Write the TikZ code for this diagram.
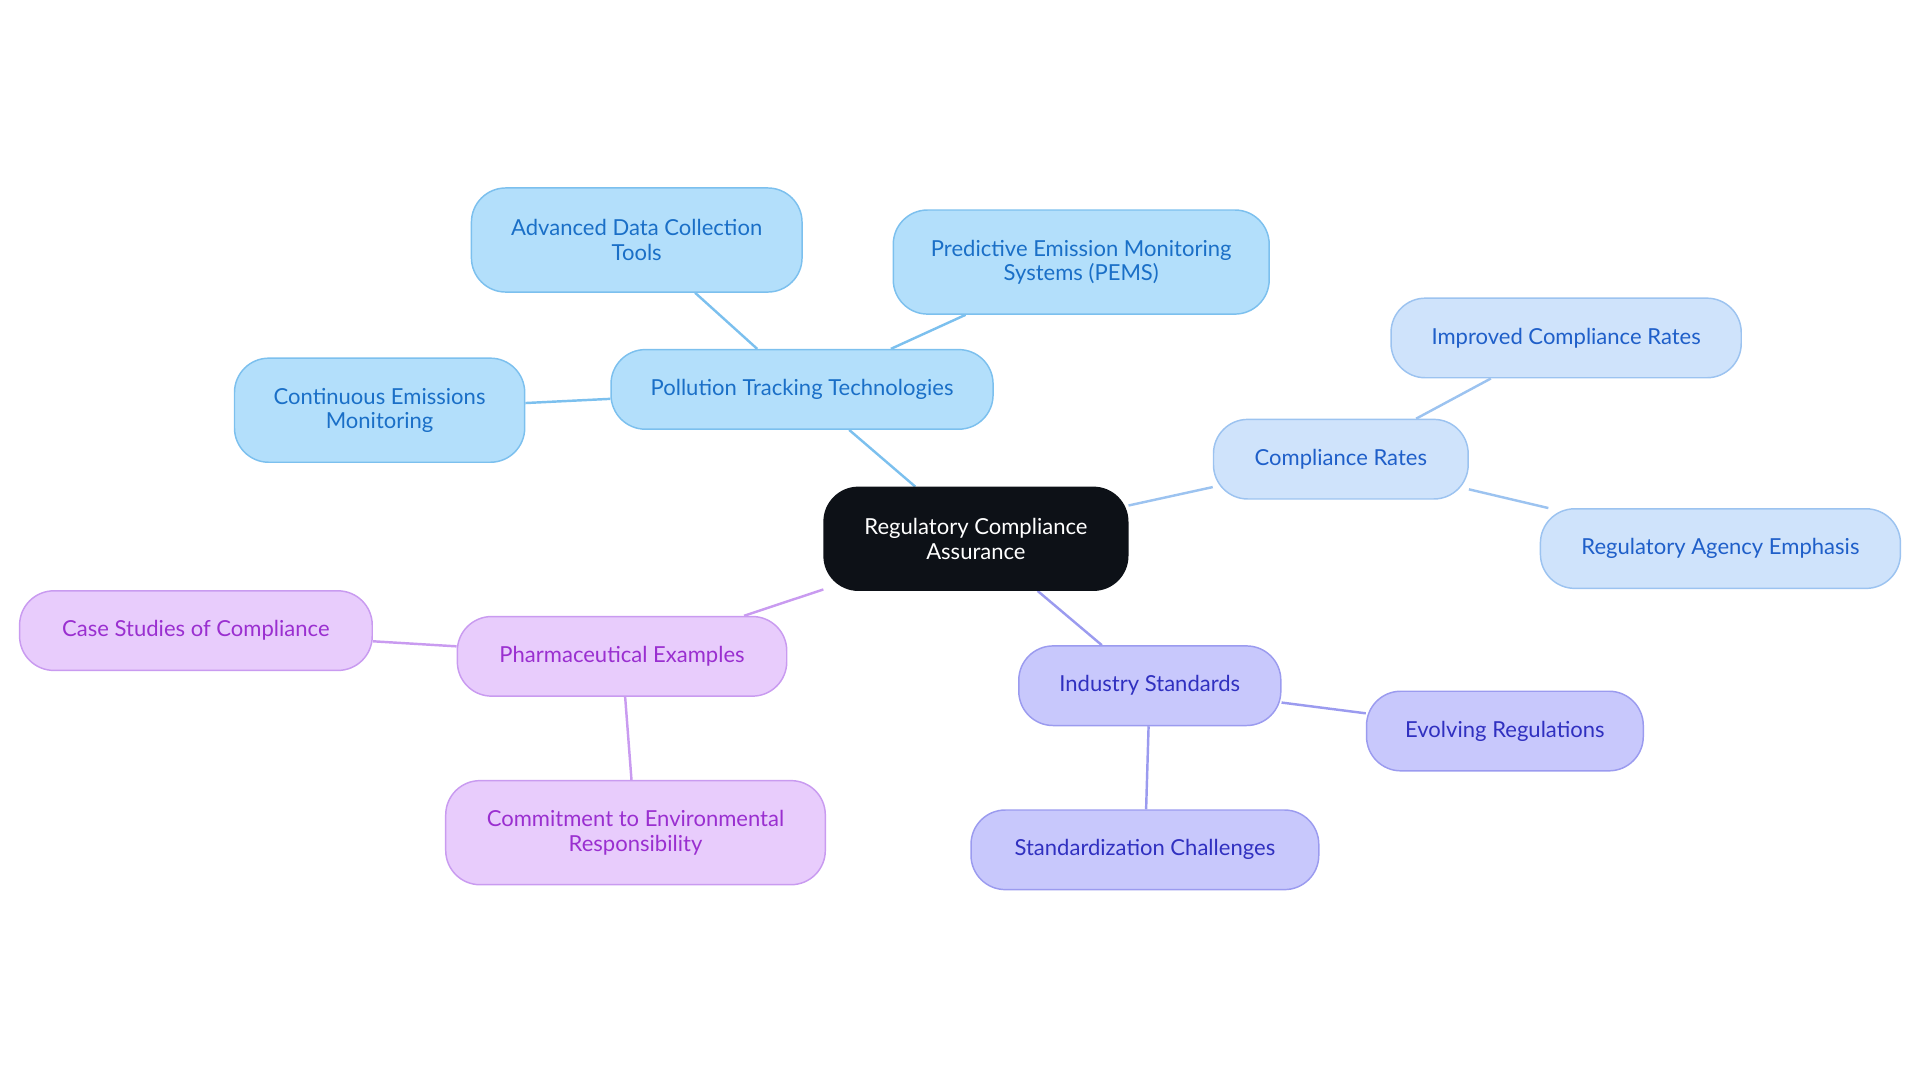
\documentclass[tikz,border=0pt]{standalone}
\usepackage{fontspec}
\setmainfont{Lato}
\usetikzlibrary{positioning,backgrounds}
\definecolor{rootfill}{HTML}{0D1117}
\definecolor{ptfill}{HTML}{B3DFFB}
\definecolor{ptline}{HTML}{7CC0EE}
\definecolor{pttext}{HTML}{1A6FC7}
\definecolor{crfill}{HTML}{CFE3FB}
\definecolor{crline}{HTML}{9CC3F0}
\definecolor{crtext}{HTML}{1F5FC9}
\definecolor{isfill}{HTML}{C8C8FC}
\definecolor{isline}{HTML}{9B9BEF}
\definecolor{istext}{HTML}{3030C0}
\definecolor{phfill}{HTML}{E8CCFC}
\definecolor{phline}{HTML}{C99BF0}
\definecolor{phtext}{HTML}{9A2FD0}
\tikzset{
    topic/.style = {
        draw,
        shape=rectangle,
        rounded corners=14pt,
        minimum height=32.5pt,
        line width=0.6pt,
        align=center,
        font=\fontsize{9}{10}\selectfont
    },
    root/.style = {topic, fill=rootfill, draw=rootfill, text=white, minimum height=42pt},
    pt/.style = {topic, fill=ptfill, draw=ptline, text=pttext},
    cr/.style = {topic, fill=crfill, draw=crline, text=crtext},
    is/.style = {topic, fill=isfill, draw=isline, text=istext},
    ph/.style = {topic, fill=phfill, draw=phline, text=phtext},
    link/.style = {line width=1pt},
}
\begin{document}
\begin{tikzpicture}[x=0.5pt,y=-0.5pt]
        \useasboundingbox (0,0) rectangle (1568,884);
        \node[root, minimum width=124pt] (rca) at (797,440) {Regulatory Compliance\\Assurance};

        \node[pt, minimum width=156pt] (ptt) at (655,318) {Pollution Tracking Technologies};
        \node[pt, minimum width=135pt, minimum height=42.5pt] (adc) at (520,196) {Advanced Data Collection\\Tools};
        \node[pt, minimum width=153.5pt, minimum height=42.5pt] (pems) at (883,214) {Predictive Emission Monitoring\\Systems (PEMS)};
        \node[pt, minimum width=118.5pt, minimum height=42.5pt] (cem) at (310,335) {Continuous Emissions\\Monitoring};

        \node[cr, minimum width=104pt] (cr) at (1095,375) {Compliance Rates};
        \node[cr, minimum width=143pt] (icr) at (1279,276) {Improved Compliance Rates};
        \node[cr, minimum width=147pt] (rae) at (1405,448) {Regulatory Agency Emphasis};

        \node[is, minimum width=107pt] (is) at (939,560) {Industry Standards};
        \node[is, minimum width=113pt] (evr) at (1229,597) {Evolving Regulations};
        \node[is, minimum width=142pt] (stc) at (935,694) {Standardization Challenges};

        \node[ph, minimum width=134.5pt] (phe) at (508,536) {Pharmaceutical Examples};
        \node[ph, minimum width=144pt] (csc) at (160,515) {Case Studies of Compliance};
        \node[ph, minimum width=155pt, minimum height=42.5pt] (cer) at (519,680) {Commitment to Environmental\\Responsibility};

        \begin{scope}[on background layer]
            \draw[link, ptline] (rca) -- (ptt);
            \draw[link, ptline] (ptt) -- (adc);
            \draw[link, ptline] (ptt) -- (pems);
            \draw[link, ptline] (ptt) -- (cem);
            \draw[link, crline] (rca) -- (cr);
            \draw[link, crline] (cr) -- (icr);
            \draw[link, crline] (cr) -- (rae);
            \draw[link, isline] (rca) -- (is);
            \draw[link, isline] (is) -- (evr);
            \draw[link, isline] (is) -- (stc);
            \draw[link, phline] (rca) -- (phe);
            \draw[link, phline] (phe) -- (csc);
            \draw[link, phline] (phe) -- (cer);
        \end{scope}
    \end{tikzpicture}
\end{document}
